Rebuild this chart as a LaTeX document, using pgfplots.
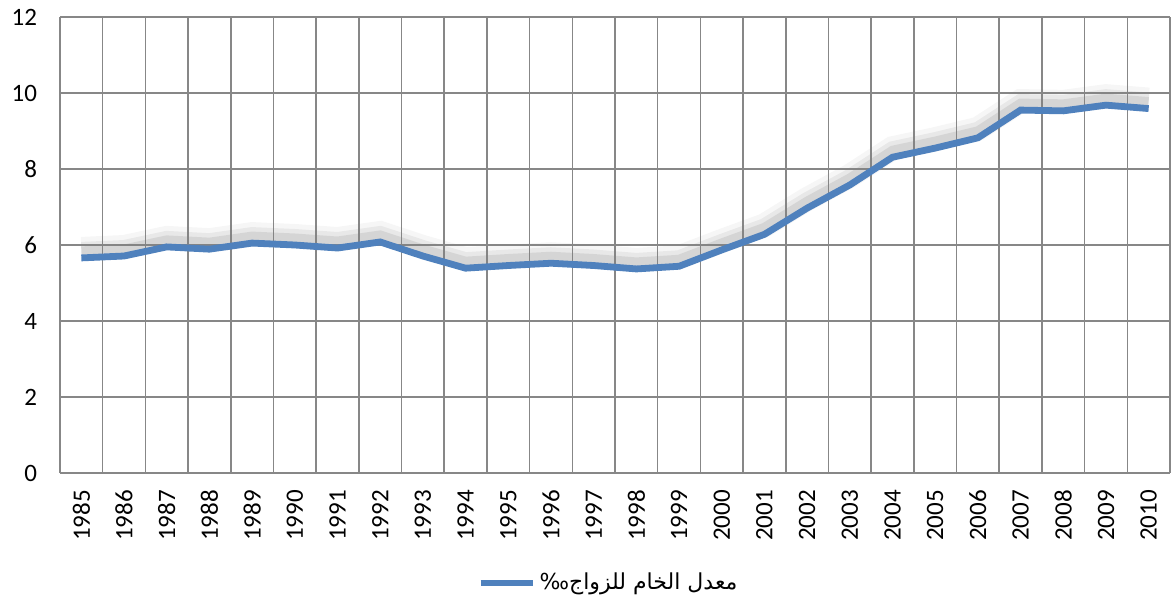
\documentclass[border=0pt]{standalone}
\usepackage{pgfplots}
\pgfplotsset{compat=1.18}
\usepackage{fontspec}
\setmainfont{Carlito}
\newfontfamily\arabicfont[Script=Arabic]{DejaVu Sans}
\TeXXeTstate=1
\usetikzlibrary{calc}
\definecolor{lineblue}{HTML}{4F81BD}
\definecolor{gridgray}{HTML}{878787}
\pgfplotstableread{
x val
0 5.66
1 5.71
2 5.95
3 5.89
4 6.05
5 6.00
6 5.92
7 6.08
8 5.71
9 5.39
10 5.46
11 5.52
12 5.46
13 5.37
14 5.44
15 5.87
16 6.28
17 6.97
18 7.58
19 8.31
20 8.55
21 8.82
22 9.55
23 9.53
24 9.68
25 9.59
}\datatable
\begin{document}
\begin{tikzpicture}
\begin{axis}[
  name=ax,
  scale only axis,
  width=555pt, height=228pt,
  xmin=-0.5, xmax=25.5,
  ymin=0, ymax=12,
  ytick={0,2,...,12},
  xtick={0,...,25},
  xticklabels={1985,1986,1987,1988,1989,1990,1991,1992,1993,1994,1995,1996,1997,1998,1999,2000,2001,2002,2003,2004,2005,2006,2007,2008,2009,2010},
  minor xtick={-0.5,0.5,...,25.5},
  xminorgrids=true,
  ymajorgrids=true,
  major tick length=0pt, minor tick length=0pt,
  grid style={gridgray, line width=0.75pt},
  minor grid style={gridgray, line width=0.75pt},
  axis line style={gridgray, line width=0.75pt},
  axis x line*=bottom,
  axis y line*=left,
  x tick label style={rotate=90, anchor=east, font=\fontsize{12.5}{14}\selectfont, xshift=-5pt},
  y tick label style={font=\fontsize{12.5}{14}\selectfont, xshift=-8pt},
  /pgf/number format/assume math mode=true,
  clip=false,
  legend style={at={(0.495,-0.241)}, anchor=center, draw=none, fill=none,
    font=\fontsize{11}{13}\selectfont\arabicfont},
  legend cell align=left,
  legend image code/.code={\draw[lineblue, line width=3pt] (0pt,0pt) -- (26pt,0pt);},
]
\addplot[gray, opacity=0.07, line width=12pt, yshift=4.5pt, forget plot] table[x=x,y=val]{\datatable};
\addplot[gray, opacity=0.12, line width=8pt, yshift=4pt, forget plot] table[x=x,y=val]{\datatable};
\addplot[gray, opacity=0.18, line width=4.5pt, yshift=3.5pt, forget plot] table[x=x,y=val]{\datatable};
\addplot[lineblue, line width=3.4pt, line join=miter] table[x=x,y=val]{\datatable};
\addlegendentry{\beginR معدل الخام للزواج‰\endR}
\end{axis}
\pgfresetboundingbox
\path ($(ax.south west)+(-30pt,-65.5pt)$) rectangle ($(ax.north east)+(0.5pt,8.5pt)$);
\end{tikzpicture}
\end{document}
